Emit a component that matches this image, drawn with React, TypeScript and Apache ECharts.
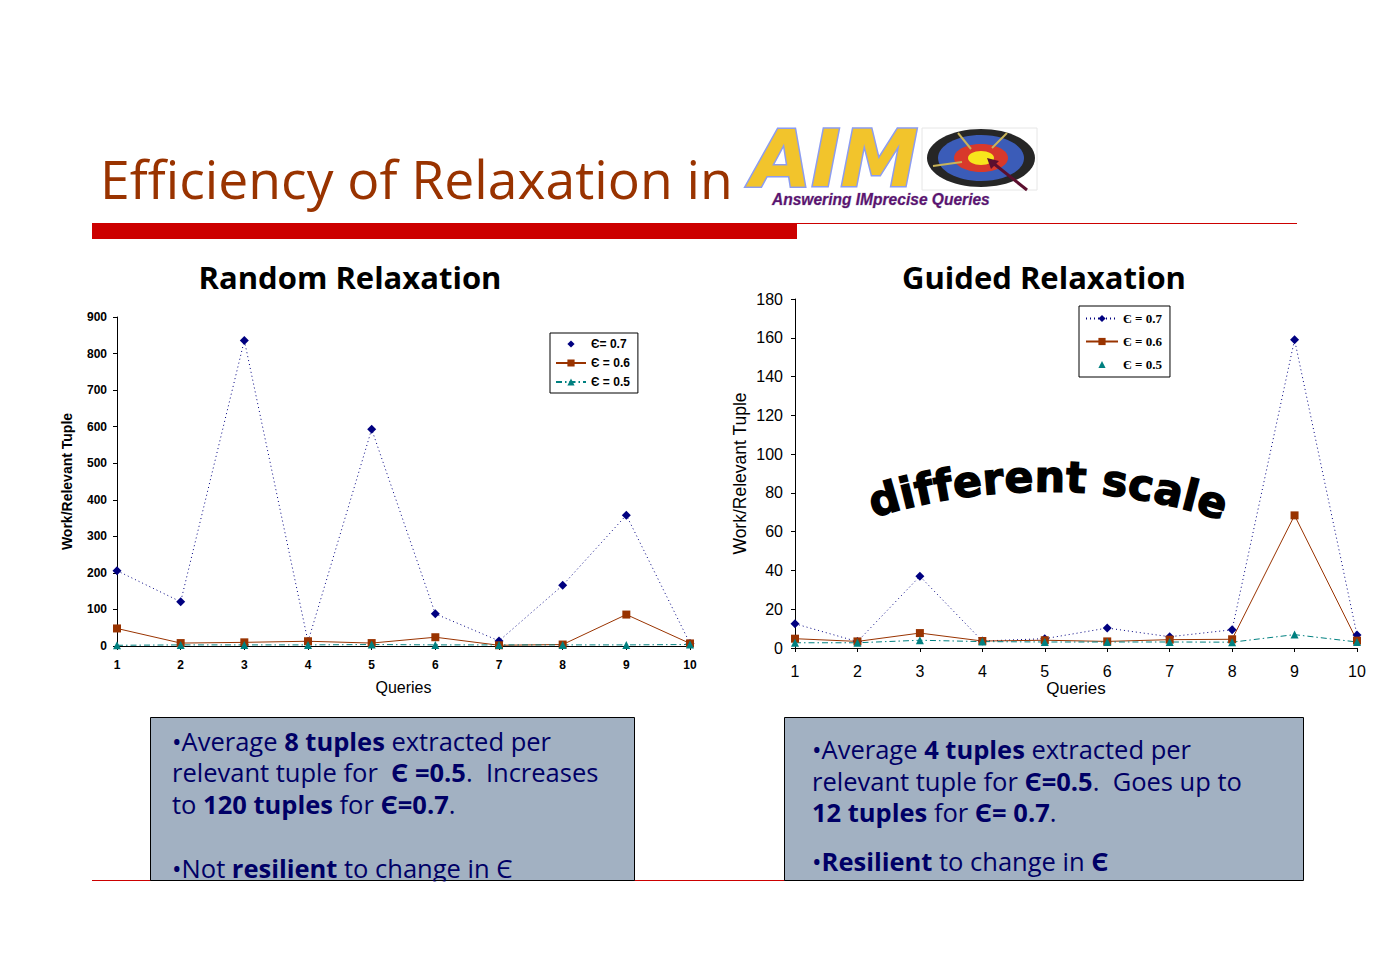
import React, { useEffect, useRef } from "react";
import * as echarts from "echarts";

// ---------------- data ----------------
const queries = ["1", "2", "3", "4", "5", "6", "7", "8", "9", "10"];
const randomEps07 = [206, 121, 836, 12, 593, 88, 14, 166, 358, 7];
const randomEps06 = [48, 8, 10, 13, 8, 24, 2, 4, 86, 7];
const randomEps05 = [2, 3, 3, 3, 4, 3, 3, 3, 3, 4];
const guidedEps07 = [12.5, 3.3, 37, 3.6, 4.8, 10.3, 5.8, 9.4, 159, 6.7];
const guidedEps06 = [4.8, 3.4, 7.7, 3.6, 4.0, 3.4, 4.3, 4.5, 68.4, 3.8];
const guidedEps05 = [2.7, 2.7, 4.0, 3.3, 3.1, 3.1, 3.1, 3.0, 6.9, 3.1];
const randomScale = { min: 0, max: 900, interval: 100 };
const guidedScale = { min: 0, max: 180, interval: 20 };
const randomNames = ["Є= 0.7", "Є = 0.6", "Є = 0.5"];
const guidedNames = ["Є = 0.7", "Є = 0.6", "Є = 0.5"];

const titleText = "Efficiency of Relaxation in";
const leftChartTitle = "Random Relaxation";
const rightChartTitle = "Guided Relaxation";
const yAxisName = "Work/Relevant Tuple";
const xAxisName = "Queries";
const arcLabel = "different scale";
const logoWord = "AIM";
const logoSub = "Answering IMprecise Queries";

const leftBoxLines = [
  "•Average {b|8 tuples} extracted per",
  "relevant tuple for  {b|Є =0.5}.  Increases",
  "to {b|120 tuples} for {b|Є=0.7}.",
  "•Not {b|resilient} to change in Є",
];
const rightBoxLines = [
  "•Average {b|4 tuples} extracted per",
  "relevant tuple for {b|Є=0.5}.  Goes up to",
  "{b|12 tuples} for {b|Є= 0.7}.",
  "•{b|Resilient} to change in {b|Є}",
];

// ---------------- styles ----------------
const ARIAL = "'Liberation Sans', Arial, sans-serif";
const NARROW = "'Liberation Sans Narrow', 'Liberation Sans', Arial, sans-serif";
const SERIF = "'Liberation Serif', 'Times New Roman', serif";
const BODY = "'Open Sans', 'DejaVu Sans', sans-serif";
const HEAVY = "'DejaVu Sans', sans-serif";
const NAVY = "#000080";
const BROWN = "#993300";
const TEAL = "#008080";
const TEXTNAVY = "#000066";

function measure(text: string, font: string): number {
  const ctx = document.createElement("canvas").getContext("2d");
  if (!ctx) return text.length * 10;
  ctx.font = font;
  return ctx.measureText(text).width;
}

function fitSize(text: string, weight: string, family: string, target: number) {
  const w = measure(text, `${weight} 100px ${family}`);
  return (100 * target) / w;
}

function boxLines(lines: string[], x: number, ys: number[], fs: number) {
  return lines.map((t, i) => ({
    type: "text",
    x,
    y: ys[i],
    z: 50,
    style: {
      text: t,
      fontSize: fs,
      lineHeight: fs,
      fontFamily: BODY,
      fill: TEXTNAVY,
      verticalAlign: "middle",
      align: "left",
      rich: {
        b: { fontSize: fs, lineHeight: fs, fontFamily: BODY, fontWeight: "bold", fill: TEXTNAVY },
      },
    },
  }));
}

function arcLetters() {
  const fam = HEAVY;
  const fs = fitSize(arcLabel, "bold", fam, 348);
  const W = measure(arcLabel, `bold ${fs}px ${fam}`);
  const R = 560;
  const cx = 1044;
  const cy = 1058;
  const out: any[] = [];
  let s = 0;
  for (const ch of arcLabel) {
    const w = measure(ch, `bold ${fs}px ${fam}`);
    const mid = s + w / 2;
    s += w;
    if (ch === " ") continue;
    const th = 0.005 + (mid - W / 2) / R;
    out.push({
      type: "text",
      x: cx + R * Math.sin(th),
      y: cy - R * Math.cos(th),
      rotation: -th,
      z: 100,
      style: {
        text: ch,
        fontSize: fs,
        fontWeight: "bold",
        fontFamily: fam,
        fill: "#000",
        stroke: "#000",
        lineWidth: 1.4,
        align: "center",
        verticalAlign: "bottom",
      },
    });
  }
  return out;
}

function axisCommon(fs: number, bold: boolean, fam: string, margin: number) {
  return {
    axisLine: { show: true, lineStyle: { color: "#000", width: 1 } },
    axisTick: { show: true, length: 4, lineStyle: { color: "#000" } },
    axisLabel: {
      color: "#000",
      fontSize: fs,
      fontWeight: bold ? "bold" : "normal",
      fontFamily: fam,
      margin,
    },
    splitLine: { show: false },
  };
}

export default function App() {
  const ref = useRef<HTMLDivElement>(null);

  useEffect(() => {
    if (!ref.current) return;
    const chart = echarts.init(ref.current, undefined, { renderer: "svg" });

    const titleFs = fitSize(titleText, "normal", BODY, 633);
    const chartTitleFs = fitSize(leftChartTitle, "bold", BODY, 303);
    const subFont = `bold italic 16px ${ARIAL}`;
    const subScale = 218 / measure(logoSub, subFont);

    const graphics: any[] = [
      // title
      {
        type: "text",
        x: 100,
        y: 178,
        style: {
          text: titleText,
          fontSize: titleFs,
          fontFamily: BODY,
          fill: "#993300",
          verticalAlign: "middle",
        },
      },
      // red bar + thin line
      { type: "rect", shape: { x: 92, y: 223, width: 705, height: 16 }, style: { fill: "#CC0000" } },
      { type: "line", shape: { x1: 797, y1: 223.5, x2: 1297, y2: 223.5 }, style: { stroke: "#CC0000", lineWidth: 1 } },
      // logo: target
      { type: "rect", shape: { x: 922, y: 128, width: 115, height: 62 }, style: { fill: "#fff", stroke: "#e6e6e6", lineWidth: 1 } },
      { type: "ellipse", shape: { cx: 981, cy: 158, rx: 54, ry: 29 }, style: { fill: "#262626" } },
      { type: "ellipse", shape: { cx: 981, cy: 158, rx: 43, ry: 23 }, style: { fill: "#3B5CB8" } },
      { type: "ellipse", shape: { cx: 981, cy: 158, rx: 27, ry: 14 }, style: { fill: "#D8392B" } },
      { type: "ellipse", shape: { cx: 981, cy: 158, rx: 13, ry: 7 }, style: { fill: "#F7E51C" } },
      { type: "line", shape: { x1: 958, y1: 133, x2: 971, y2: 149 }, style: { stroke: "#C9B45A", lineWidth: 2 } },
      { type: "line", shape: { x1: 1007, y1: 133, x2: 992, y2: 148 }, style: { stroke: "#C9B45A", lineWidth: 2 } },
      { type: "line", shape: { x1: 933, y1: 166, x2: 962, y2: 162 }, style: { stroke: "#C9B45A", lineWidth: 2 } },
      { type: "line", shape: { x1: 993, y1: 163, x2: 1027, y2: 190 }, style: { stroke: "#5B0F2E", lineWidth: 3 } },
      { type: "polygon", shape: { points: [[987, 158], [999, 161], [991, 169]] }, style: { fill: "#5B0F2E" } },
      // logo: AIM word, outlined
      {
        type: "text",
        x: 751,
        y: 159,
        style: {
          text: logoWord,
          fontSize: 78,
          fontWeight: "bold",
          fontStyle: "italic",
          fontFamily: HEAVY,
          fill: "#F2C42C",
          stroke: "#8C9CF0",
          lineWidth: 3,
          verticalAlign: "middle",
        },
      },
      {
        type: "text",
        x: 772,
        y: 199,
        scaleX: subScale,
        style: {
          text: logoSub,
          font: subFont,
          fill: "#5B1470",
          stroke: "#B8B0C8",
          lineWidth: 0.6,
          verticalAlign: "middle",
        },
      },
      // chart titles
      {
        type: "text",
        x: 350,
        y: 277,
        style: { text: leftChartTitle, fontSize: chartTitleFs, fontWeight: "bold", fontFamily: BODY, fill: "#000", align: "center", verticalAlign: "middle" },
      },
      {
        type: "text",
        x: 1044,
        y: 277,
        style: { text: rightChartTitle, fontSize: chartTitleFs, fontWeight: "bold", fontFamily: BODY, fill: "#000", align: "center", verticalAlign: "middle" },
      },
      // bottom red rule
      { type: "line", shape: { x1: 92, y1: 880.5, x2: 785, y2: 880.5 }, style: { stroke: "#CC0000", lineWidth: 1 } },
      // text boxes
      { type: "rect", z: 40, shape: { x: 150.5, y: 717.5, width: 484, height: 163 }, style: { fill: "#A2B1C2", stroke: "#000", lineWidth: 1 } },
      { type: "rect", z: 40, shape: { x: 784.5, y: 717.5, width: 519, height: 163 }, style: { fill: "#A2B1C2", stroke: "#000", lineWidth: 1 } },
      ...boxLines(leftBoxLines, 172, [741, 772, 804, 868], 25.5),
      ...boxLines(rightBoxLines, 812, [749, 781, 812, 861], 25.5),
      // clip below the slide footer line
      { type: "rect", z: 60, shape: { x: 0, y: 881.5, width: 1384, height: 100 }, style: { fill: "#fff" } },
      ...arcLetters(),
    ];

    const option: any = {
      animation: false,
      backgroundColor: "#fff",
      grid: [
        { left: 117, top: 317, width: 573, height: 329 },
        { left: 795, top: 299, width: 562, height: 349 },
      ],
      xAxis: [
        {
          gridIndex: 0,
          type: "category",
          data: queries,
          boundaryGap: false,
          ...axisCommon(12, true, ARIAL, 13),
          name: xAxisName,
          nameLocation: "middle",
          nameGap: 33,
          nameTextStyle: { fontSize: 16, fontFamily: ARIAL, color: "#000" },
        },
        {
          gridIndex: 1,
          type: "category",
          data: queries,
          boundaryGap: false,
          ...axisCommon(16, false, NARROW, 15),
          name: xAxisName,
          nameLocation: "middle",
          nameGap: 30,
          nameTextStyle: { fontSize: 17, fontFamily: ARIAL, color: "#000" },
        },
      ],
      yAxis: [
        {
          gridIndex: 0,
          type: "value",
          ...randomScale,
          ...axisCommon(12, true, ARIAL, 10),
          name: yAxisName,
          nameLocation: "middle",
          nameGap: 43,
          nameTextStyle: { fontSize: 14, fontWeight: "bold", fontFamily: ARIAL, color: "#000" },
        },
        {
          gridIndex: 1,
          type: "value",
          ...guidedScale,
          ...axisCommon(16, false, NARROW, 12),
          name: yAxisName,
          nameLocation: "middle",
          nameGap: 46,
          nameTextStyle: { fontSize: 17.5, fontFamily: ARIAL, color: "#000" },
        },
      ],
      legend: [
        {
          left: 550,
          top: 333,
          orient: "vertical",
          backgroundColor: "#fff",
          borderColor: "#000",
          borderWidth: 1,
          borderRadius: 0,
          padding: [5, 8, 5, 5],
          itemGap: 7,
          itemWidth: 30,
          itemHeight: 9,
          textStyle: { fontSize: 12, fontWeight: "bold", fontFamily: ARIAL, color: "#000" },
          data: [
            { name: randomNames[0], lineStyle: { opacity: 0 } },
            { name: randomNames[1] },
            { name: randomNames[2] },
          ],
        },
        {
          left: 1079,
          top: 306,
          orient: "vertical",
          backgroundColor: "#fff",
          borderColor: "#000",
          borderWidth: 1,
          borderRadius: 0,
          padding: [6, 8, 6, 6],
          itemGap: 10,
          itemWidth: 32,
          itemHeight: 9,
          textStyle: { fontSize: 13, fontWeight: "bold", fontFamily: SERIF, color: "#000" },
          data: [
            { name: guidedNames[0] },
            { name: guidedNames[1] },
            { name: guidedNames[2], lineStyle: { opacity: 0 } },
          ],
        },
      ],
      graphic: { elements: graphics },
      series: [
        {
          name: randomNames[0], type: "line", xAxisIndex: 0, yAxisIndex: 0, data: randomEps07,
          symbol: "diamond", symbolSize: 9, itemStyle: { color: NAVY },
          lineStyle: { color: NAVY, width: 1, type: [1, 3] },
        },
        {
          name: randomNames[1], type: "line", xAxisIndex: 0, yAxisIndex: 0, data: randomEps06,
          symbol: "rect", symbolSize: 8, itemStyle: { color: BROWN },
          lineStyle: { color: BROWN, width: 1 },
        },
        {
          name: randomNames[2], type: "line", xAxisIndex: 0, yAxisIndex: 0, data: randomEps05,
          symbol: "triangle", symbolSize: 8, itemStyle: { color: TEAL },
          lineStyle: { color: TEAL, width: 1, type: [6, 3, 1.5, 3] },
        },
        {
          name: guidedNames[0], type: "line", xAxisIndex: 1, yAxisIndex: 1, data: guidedEps07,
          symbol: "diamond", symbolSize: 9, itemStyle: { color: NAVY },
          lineStyle: { color: NAVY, width: 1, type: [1, 3] },
        },
        {
          name: guidedNames[1], type: "line", xAxisIndex: 1, yAxisIndex: 1, data: guidedEps06,
          symbol: "rect", symbolSize: 8, itemStyle: { color: BROWN },
          lineStyle: { color: BROWN, width: 1 },
        },
        {
          name: guidedNames[2], type: "line", xAxisIndex: 1, yAxisIndex: 1, data: guidedEps05,
          symbol: "triangle", symbolSize: 8, itemStyle: { color: TEAL },
          lineStyle: { color: TEAL, width: 1, type: [6, 3, 1.5, 3] },
        },
      ],
    };

    chart.setOption(option);
    return () => chart.dispose();
  }, []);

  return (
    <div
      ref={ref}
      style={{ position: "absolute", left: 0, top: 0, width: 1384, height: 978, background: "#fff" }}
    />
  );
}
